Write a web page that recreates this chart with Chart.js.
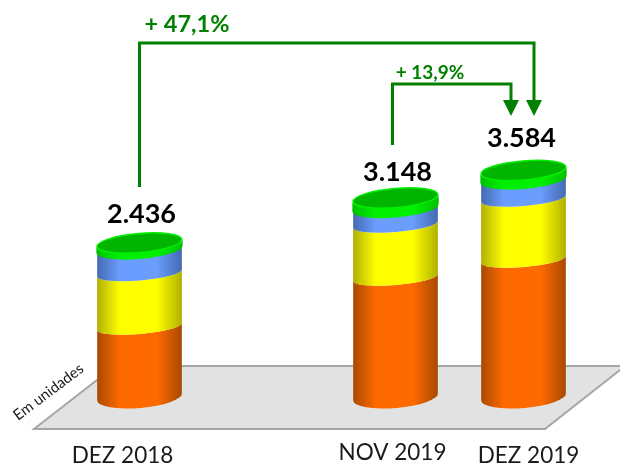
<!DOCTYPE html>
<html>
<head>
<meta charset="utf-8">
<style>
  html, body { margin: 0; padding: 0; background: #fff; }
  canvas { display: block; }
</style>
<script src="https://cdn.jsdelivr.net/npm/chart.js@4/dist/chart.umd.min.js"></script>
</head>
<body>
<canvas id="chart" width="620" height="467"></canvas>
<script>
const categories = ['DEZ 2018', '', 'NOV 2019', 'DEZ 2019'];
const totals = [2436, null, 3148, 3584];
const orangeValues = [1115, null, 1891, 2176];
const yellowValues = [846, null, 839, 965];
const blueValues = [372, null, 260, 300];
const greenValues = [103, null, 158, 143];
const growthLabels = ['+ 47,1%', '+ 13,9%'];
const unitLabel = 'Em unidades';

const FONT = 'Lato, Carlito, sans-serif';
const GREEN = '#008000';
const edgeColors = ['#a84a00', '#b0b000', '#4469b0', '#00c000'];
const labelShift = [[-17, 59], null, [-3, 56], [5, 59]];
const totalShift = [[2, -29], null, [2, -26], [-2, -32]];

function arrowLine(ctx, pts) {
  ctx.save();
  ctx.strokeStyle = GREEN;
  ctx.fillStyle = GREEN;
  ctx.lineWidth = 3;
  ctx.lineJoin = 'miter';
  ctx.beginPath();
  pts.forEach((p, i) => i ? ctx.lineTo(p[0], p[1]) : ctx.moveTo(p[0], p[1]));
  ctx.stroke();
  const end = pts[pts.length - 1];
  ctx.beginPath();
  ctx.moveTo(end[0] - 8, end[1]);
  ctx.lineTo(end[0] + 8, end[1]);
  ctx.lineTo(end[0], end[1] + 16);
  ctx.closePath();
  ctx.fill();
  ctx.restore();
}

function drawFloor(ctx) {
  ctx.save();
  ctx.beginPath();
  ctx.moveTo(34, 429);
  ctx.lineTo(115, 366);
  ctx.lineTo(625, 366);
  ctx.lineTo(545, 429);
  ctx.closePath();
  ctx.fillStyle = '#e2e2e2';
  ctx.fill();
  ctx.strokeStyle = '#a6a6a6';
  ctx.lineWidth = 2;
  ctx.stroke();
  ctx.restore();
}

// horizontal shading so a flat stack reads as a cylinder
function shade(ctx, left, right, edge, mid) {
  const g = ctx.createLinearGradient(left, 0, right, 0);
  g.addColorStop(0, edge);
  g.addColorStop(0.27, mid);
  g.addColorStop(0.7, mid);
  g.addColorStop(1, edge);
  return g;
}

const cylinderPlugin = {
  id: 'cylinders',
  beforeDatasetsDraw(chart) {
    const ctx = chart.ctx;
    const tilt = -0.085;
    drawFloor(ctx);
    categories.forEach((c, j) => {
      if (totals[j] == null) return;
      chart.data.datasets.forEach((ds, i) => {
        const bar = chart.getDatasetMeta(i).data[j];
        const cap = i === chart.data.datasets.length - 1;
        const rx = bar.width / 2 + (cap ? 0.8 : 0);
        const ryBase = i === 0 ? 11 : (cap ? 9.5 : 7.5);
        const ryTop = cap ? 9.5 : 7.5;
        ctx.fillStyle = shade(ctx, bar.x - rx, bar.x + rx, edgeColors[i], ds.backgroundColor);
        ctx.beginPath();
        ctx.ellipse(bar.x, bar.base, rx, ryBase, tilt, 0, Math.PI);
        ctx.ellipse(bar.x, bar.y, rx, ryTop, tilt, Math.PI, 0, true);
        ctx.closePath();
        ctx.fill();
        if (cap) {
          ctx.beginPath();
          ctx.ellipse(bar.x, bar.y, rx - 0.8, ryTop, tilt, 0, Math.PI * 2);
          ctx.fillStyle = '#00b400';
          ctx.fill();
          ctx.strokeStyle = '#00f000';
          ctx.lineWidth = 1.5;
          ctx.stroke();
        }
      });
    });
    return false;
  },
  afterDraw(chart) {
    const ctx = chart.ctx;
    const xs = chart.scales.x;
    const top = chart.getDatasetMeta(chart.data.datasets.length - 1).data;
    const xAt = j => xs.getPixelForValue(j);
    const base = chart.scales.y.getPixelForValue(0);
    ctx.save();
    ctx.textAlign = 'center';
    ctx.textBaseline = 'middle';

    categories.forEach((label, j) => {
      if (!label) return;
      ctx.fillStyle = '#1a1a1a';
      ctx.font = '22.5px ' + FONT;
      ctx.fillText(label, xAt(j) + labelShift[j][0], base + labelShift[j][1]);
      ctx.fillStyle = '#000';
      ctx.font = 'bold 27px ' + FONT;
      const txt = String(totals[j]).replace(/(\d)(\d{3})$/, '$1.$2');
      ctx.fillText(txt, xAt(j) + totalShift[j][0], top[j].y + totalShift[j][1]);
    });

    arrowLine(ctx, [[xAt(0), 187], [xAt(0), 43], [xAt(3) + 10.5, 43], [xAt(3) + 10.5, 100]]);
    arrowLine(ctx, [[xAt(2) - 3, 145], [xAt(2) - 3, 84], [xAt(3) - 12.5, 84], [xAt(3) - 12.5, 100]]);

    ctx.fillStyle = GREEN;
    ctx.font = 'bold 23.5px ' + FONT;
    ctx.fillText(growthLabels[0], 187, 24);
    ctx.font = 'bold 19px ' + FONT;
    ctx.fillText(growthLabels[1], 430, 73);

    ctx.fillStyle = '#1a1a1a';
    ctx.font = '15px ' + FONT;
    ctx.translate(48.5, 392);
    ctx.rotate(-37 * Math.PI / 180);
    ctx.fillText(unitLabel, 0, 0);
    ctx.restore();
  }
};

new Chart(document.getElementById('chart'), {
  type: 'bar',
  data: {
    labels: categories,
    datasets: [
      { label: 'Laranja', data: orangeValues, backgroundColor: '#ff6a00' },
      { label: 'Amarelo', data: yellowValues, backgroundColor: '#ffff00' },
      { label: 'Azul', data: blueValues, backgroundColor: '#6b9dff' },
      { label: 'Verde', data: greenValues, backgroundColor: '#00f000' }
    ]
  },
  options: {
    responsive: false,
    animation: false,
    layout: { padding: { left: 75.5, right: 32.5, top: 0, bottom: 70 } },
    datasets: { bar: { barPercentage: 85 / 128, categoryPercentage: 1 } },
    plugins: { legend: { display: false }, tooltip: { enabled: false } },
    scales: {
      x: { stacked: true, display: false },
      y: { stacked: true, display: false, min: 0, max: 6280 }
    }
  },
  plugins: [cylinderPlugin]
});
</script>
</body>
</html>
